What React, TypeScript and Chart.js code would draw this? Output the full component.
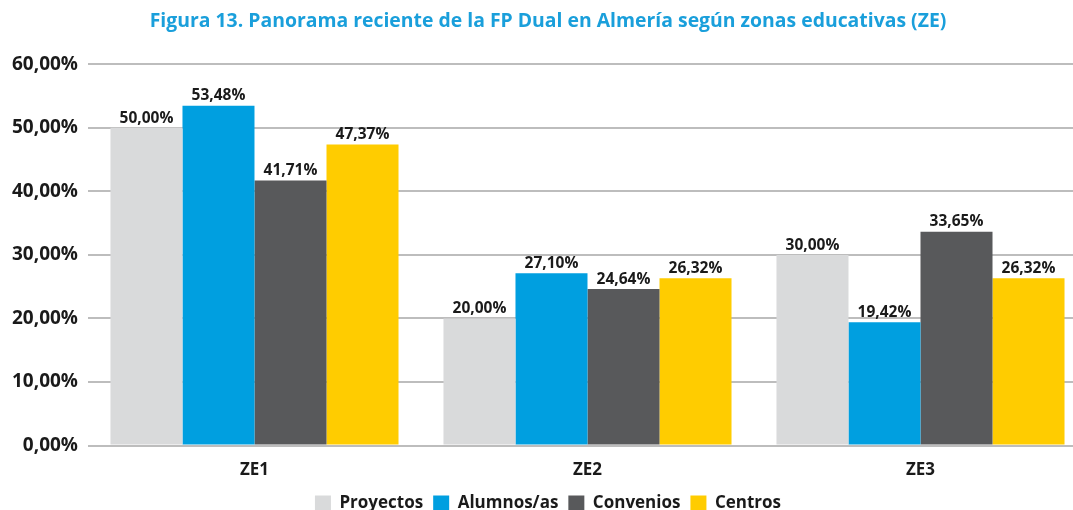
import React, { useEffect, useRef } from "react";
import { Chart, registerables } from "chart.js";

Chart.register(...registerables);

const categories = ["ZE1", "ZE2", "ZE3"];
const seriesNames = ["Proyectos", "Alumnos/as", "Convenios", "Centros"];
const proyectos = [50.0, 20.0, 30.0];
const alumnos = [53.48, 27.1, 19.42];
const convenios = [41.71, 24.64, 33.65];
const centros = [47.37, 26.32, 26.32];
const seriesColors = ["#d9dadb", "#009fe0", "#58595b", "#ffcc00"];
const yTicks = [0, 10, 20, 30, 40, 50, 60];
const titleText = "Figura 13. Panorama reciente de la FP Dual en Almería según zonas educativas (ZE)";

const fmt = (v: number) => v.toFixed(2).replace(".", ",") + "%";

const FONT = "'Open Sans', 'Noto Sans', sans-serif";

const valueLabels = {
  id: "valueLabels",
  afterDatasetsDraw(chart: any) {
    const ctx = chart.ctx;
    ctx.save();
    ctx.font = `bold 15.5px ${FONT}`;
    ctx.fillStyle = "#1a1a1a";
    ctx.textAlign = "center";
    ctx.textBaseline = "bottom";
    chart.data.datasets.forEach((ds: any, i: number) => {
      const meta = chart.getDatasetMeta(i);
      meta.data.forEach((el: any, j: number) => {
        ctx.fillText(fmt(ds.data[j]), el.x, el.y - 2);
      });
    });
    ctx.restore();
  },
};

export default function App() {
  const ref = useRef<HTMLCanvasElement>(null);
  useEffect(() => {
    if (!ref.current) return;
    const allSeries = [proyectos, alumnos, convenios, centros];
    const chart = new Chart(ref.current, {
      type: "bar",
      data: {
        labels: categories,
        datasets: allSeries.map((d, i) => ({
          label: seriesNames[i],
          data: d,
          backgroundColor: seriesColors[i],
          borderWidth: 0,
          categoryPercentage: 0.865,
          barPercentage: 1,
        })),
      },
      options: {
        responsive: false,
        animation: false,
        layout: { padding: { left: 9, right: 0, top: 0, bottom: 0 } },
        plugins: {
          title: {
            display: true,
            text: titleText,
            color: "#1a9fdb",
            font: { family: FONT, weight: "bold", size: 19.4 },
            padding: { top: 10, bottom: 31 },
          },
          legend: {
            position: "bottom",
            labels: {
              boxWidth: 16,
              boxHeight: 16,
              padding: 10,
              color: "#1a1a1a",
              font: { family: FONT, weight: "bold", size: 17 },
            },
          },
          tooltip: { enabled: false },
        },
        scales: {
          x: {
            grid: { display: false, drawTicks: false },
            border: { display: false },
            ticks: {
              color: "#1a1a1a",
              font: { family: FONT, weight: "bold", size: 17 },
              padding: 14,
            },
            afterFit: (axis: any) => {
              axis.height -= 9;
            },
          },
          y: {
            min: 0,
            max: 60,
            afterBuildTicks: (axis: any) => {
              axis.ticks = yTicks.map((v) => ({ value: v }));
            },
            afterFit: (axis: any) => {
              axis.width -= 7;
            },
            grid: { color: "#bdbdbd", lineWidth: 2, drawTicks: false },
            border: { display: false },
            ticks: {
              color: "#1a1a1a",
              font: { family: FONT, weight: "bold", size: 19 },
              padding: 10,
              callback: (v: any) => fmt(Number(v)),
            },
          },
        },
      },
      plugins: [valueLabels],
    });
    return () => chart.destroy();
  }, []);
  return (
    <div style={{ position: "fixed", left: 0, top: 0, width: 1073, height: 510, overflow: "hidden", background: "#fff" }}>
      <canvas ref={ref} width={1087} height={522} style={{ display: "block" }} />
    </div>
  );
}
